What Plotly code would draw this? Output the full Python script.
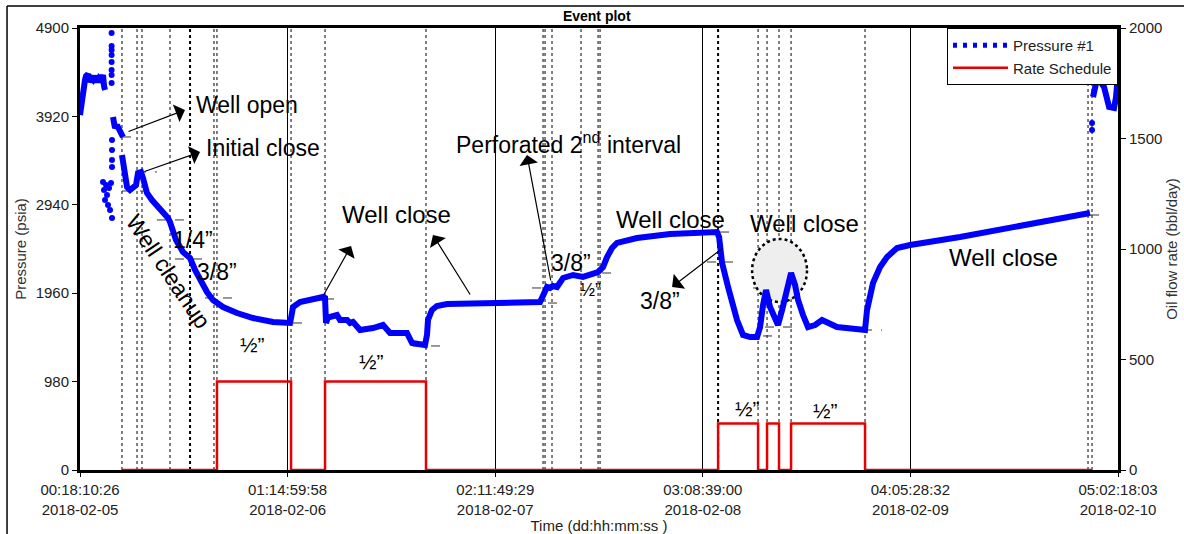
import plotly.graph_objects as go

FONT = "Arial, 'Liberation Sans', sans-serif"

# ---- time axis (dd:hh:mm:ss relative clock, with calendar date) ----
tick_clock = ["00:18:10:26", "01:14:59:58", "02:11:49:29", "03:08:39:00", "04:05:28:32", "05:02:18:03"]
tick_dates = ["2018-02-05", "2018-02-06", "2018-02-07", "2018-02-08", "2018-02-09", "2018-02-10"]


def clock_seconds(s):
    d, h, m, sec = (int(v) for v in s.split(":"))
    return ((d * 24 + h) * 60 + m) * 60 + sec


t0 = clock_seconds(tick_clock[0])
tick_hours = [(clock_seconds(c) - t0) / 3600.0 for c in tick_clock]
t_end = tick_hours[-1]

# ---- pressure gauge #1 (hours since start, psia) ----
pre_open_h = [0.00, 0.10, 0.20, 0.30, 0.50, 0.60, 0.80, 0.90, 1.10, 1.30, 1.50, 1.71, 1.91, 2.11, 2.31, 2.41, 2.51]
pre_open_p = [3936, 4046, 4102, 4235, 4324, 4368, 4390, 4301, 4346, 4324, 4368, 4301, 4346, 4324, 4379, 4257, 4213]

transient_h = [2.31, 2.41, 2.51, 2.61, 2.71, 2.81, 2.91, 3.01, 3.11, 3.21,
               3.17, 3.17, 3.17, 3.17, 3.17, 3.17, 3.17, 3.17,
               3.21, 3.21, 3.21, 3.21, 101.52, 101.52]
transient_p = [3193, 3104, 2993, 3159, 3049, 2938, 3126, 2882, 3182, 2794,
               4845, 4700, 4656, 4600, 4523, 4434, 4379, 4290,
               3658, 3548, 3437, 3359, 3847, 3769]

open_h = [3.31, 3.51, 3.71, 4.01, 4.31]
open_p = [3913, 3791, 3825, 3747, 3692]

main_h = [4.21, 4.51, 4.72, 5.02, 5.32, 5.62, 5.82, 6.12, 6.32, 6.72, 7.22, 7.72, 8.33, 8.83, 9.03, 9.23,
          9.63, 10.33, 11.04, 11.54, 12.24, 12.74, 13.34, 14.35, 15.75, 17.36, 19.36, 20.87, 21.07, 21.17,
          21.37, 22.07, 23.37, 24.38, 24.58, 24.68, 24.88, 25.08, 25.78, 26.08, 26.79, 27.09, 27.39, 28.09,
          29.39, 30.40, 31.10, 32.80, 33.31, 34.61, 34.81, 34.91, 35.31, 35.81, 36.82, 38.82, 41.83, 46.15,
          46.45, 46.85, 47.15, 47.45, 47.85, 48.46, 49.46, 50.46, 51.97, 52.47, 52.87, 53.37, 53.87, 54.88,
          55.88, 59.19, 62.20, 63.90, 64.11, 64.21, 64.41, 65.01, 65.91, 66.51, 67.22, 67.92, 68.22, 68.52,
          68.82, 69.22, 69.72, 70.02, 70.43, 70.73, 71.33, 71.73, 72.03, 72.53, 73.03, 73.74, 74.44, 75.94,
          77.25, 78.55, 78.75, 78.95, 79.55, 80.26, 80.56, 80.96, 81.96, 83.27, 88.28, 95.00, 101.32]
main_p = [3492, 3270, 3137, 3104, 3126, 3159, 3293, 3304, 3237, 3071, 2993, 2938, 2860, 2794, 2749, 2661,
          2550, 2417, 2350, 2217, 2073, 1973, 1885, 1807, 1740, 1685, 1641, 1630, 1630, 1685,
          1807, 1862, 1896, 1918, 1907, 1630, 1696, 1696, 1718, 1663, 1663, 1630, 1641, 1552,
          1574, 1607, 1519, 1519, 1408, 1386, 1497, 1663, 1774, 1818, 1840, 1851, 1851, 1862,
          1940, 2029, 2018, 2040, 2029, 2129, 2162, 2140, 2195, 2250, 2361, 2461, 2517, 2550,
          2572, 2616, 2627, 2638, 2583, 2472, 2295, 2029, 1663, 1497, 1474, 1474, 1585, 1829,
          1995, 1807, 1685, 1607, 1774, 1918, 2184, 2051, 1885, 1718, 1585, 1607, 1663, 1585,
          1574, 1552, 1552, 1774, 2073, 2250, 2295, 2361, 2461, 2494, 2583, 2716, 2849]

reopen_h = [101.62, 101.93, 102.23, 102.73, 103.23, 103.73, 103.93, 104.10]
reopen_p = [4135, 4290, 4323, 4246, 4024, 4013, 4135, 4357]

# ---- rate schedule (bbl/day), step changes ----
rate_h = [4.21, 13.74, 21.17, 24.58, 34.71, 64.01, 68.02, 68.92, 70.12, 71.33, 78.75, 101.52]
rate_q = [0, 400, 0, 400, 0, 210, 0, 210, 0, 210, 0, 0]

# ---- event markers ----
event_h = [4.21, 5.72, 6.22, 9.03, 13.44, 13.74, 21.17, 24.58, 34.71, 46.45, 46.65, 47.35,
           50.26, 51.97, 52.17, 68.02, 68.92, 70.12, 71.33, 78.75, 101.12, 101.52]
event_bold_h = [11.04, 64.01]

# short dashed pressure levels at event starts: (start h, end h, psia)
level_h0 = [4.21, 5.72, 4.21, 7.72, 9.53, 12.54, 21.37, 24.58, 33.41, 45.35, 46.95, 52.37, 64.21, 62.90,
            67.52, 70.53, 68.72, 68.52, 78.55, 101.32]
level_h1 = [5.72, 7.72, 7.22, 11.04, 12.74, 15.35, 22.77, 26.38, 36.42, 48.15, 48.15, 53.87, 65.51, 65.51,
            69.92, 72.23, 71.73, 69.92, 80.46, 103.13]
level_p = [3692, 3304, 3093, 2772, 2339, 1907, 1630, 1896, 1375, 2018, 1851, 2184, 2638, 2306,
           2018, 2195, 1585, 1486, 1552, 2827]

BLUE = "#0000ff"
RED = "#e60000"

fig = go.Figure()

for hx, py in [(pre_open_h, pre_open_p), (open_h, open_p), (main_h, main_p), (reopen_h, reopen_p)]:
    fig.add_trace(go.Scatter(x=hx, y=py, mode="lines", line=dict(color=BLUE, width=6),
                             showlegend=False, hoverinfo="skip"))
fig.add_trace(go.Scatter(x=transient_h, y=transient_p, mode="markers",
                         marker=dict(color=BLUE, size=6), showlegend=False, hoverinfo="skip"))
# legend entry for the gauge (dotted sample)
fig.add_trace(go.Scatter(x=[None], y=[None], mode="lines", name="Pressure #1",
                         line=dict(color=BLUE, width=5, dash="4px,6px")))
fig.add_trace(go.Scatter(x=rate_h, y=rate_q, mode="lines", name="Rate Schedule", yaxis="y2",
                         line=dict(color=RED, width=2.5, shape="hv")))

shapes = []
for h in event_h:
    shapes.append(dict(type="line", xref="x", yref="paper", x0=h, x1=h, y0=0, y1=1, layer="between",
                       line=dict(color="black", width=1, dash="dot")))
for h in event_bold_h:
    shapes.append(dict(type="line", xref="x", yref="paper", x0=h, x1=h, y0=0, y1=1, layer="between",
                       line=dict(color="black", width=2, dash="dot")))
for a, b, p in zip(level_h0, level_h1, level_p):
    shapes.append(dict(type="line", xref="x", yref="y", x0=a, x1=b, y0=p, y1=p, layer="between",
                       line=dict(color="#333333", width=1, dash="dash")))
# highlighted double-peak region
shapes.append(dict(type="circle", xref="x", yref="y", x0=67.42, x1=72.93, y0=1862, y1=2561,
                   layer="between", fillcolor="#eeeeee", line=dict(color="black", width=2.5, dash="dot")))
# outer frame
shapes.append(dict(type="line", xref="paper", yref="paper", x0=-0.0703, x1=1.07, y0=1.0498, y1=1.0498,
                   line=dict(color="black", width=1.5)))
shapes.append(dict(type="line", xref="paper", yref="paper", x0=-0.0703, x1=-0.0703, y0=-0.2, y1=1.0498,
                   line=dict(color="black", width=1.5)))

annotations = []


def arrow(hx, py, tail_h, tail_p):
    annotations.append(dict(x=hx, y=py, ax=tail_h, ay=tail_p, xref="x", yref="y", axref="x", ayref="y",
                            text="", showarrow=True, arrowhead=1, arrowsize=2.6, arrowwidth=1.2,
                            arrowcolor="black", standoff=0, startstandoff=0))


def label(text, hx, py, size=24, angle=0, xanchor="center"):
    annotations.append(dict(x=hx, y=py, xref="x", yref="y", text=text, showarrow=False,
                            textangle=angle, xanchor=xanchor, yanchor="middle",
                            font=dict(family=FONT, size=size, color="black")))


arrow(10.53, 3991, 4.72, 3747)
label("Well open", 11.44, 4046, size=23, xanchor="left")
arrow(12.04, 3525, 6.32, 3304)
label("Initial close", 12.44, 3570, size=23, xanchor="left")
label("Well cleanup", 8.83, 2206, size=23, angle=56)
label("1/4”", 11.34, 2550, size=23)
label("3/8”", 13.74, 2195, size=23)
label("½”", 17.26, 1386, size=21)
label("½”", 29.29, 1208, size=21)
label("Well close", 31.70, 2827)
arrow(27.19, 2483, 24.38, 1929)
arrow(35.41, 2605, 39.23, 1929)
label("Perforated 2<sup>nd</sup> interval", 48.96, 3625, size=23)
arrow(44.84, 3492, 47.25, 2084)
label("3/8”", 49.26, 2295, size=23)
label("½”", 51.26, 1995, size=18)
label("Well close", 59.19, 2772)
arrow(59.39, 2029, 64.61, 2472)
label("3/8”", 58.19, 1874, size=23)
label("Well close", 72.63, 2738)
label("Well close", 92.60, 2361)
label("½”", 66.91, 687, size=21)
label("½”", 74.74, 665, size=21)

tick_text = [f"{c}<br>{d}" for c, d in zip(tick_clock, tick_dates)]

fig.update_layout(
    width=1184, height=534,
    margin=dict(l=80, r=66, t=28, b=64),
    paper_bgcolor="white", plot_bgcolor="white",
    font=dict(family=FONT, size=15, color="#222222"),
    title=dict(text="<b>Event plot</b>", x=0.504, xanchor="center", y=0.970, yanchor="middle",
               font=dict(family=FONT, size=14, color="black")),
    xaxis=dict(range=[0, t_end], tickvals=tick_hours, ticktext=tick_text, ticks="outside", ticklen=4,
               tickwidth=1, tickcolor="black", showgrid=True, gridcolor="black", gridwidth=1,
               showline=True, linewidth=3, linecolor="black", mirror=True, zeroline=False,
               automargin=False, tickfont=dict(size=15, color="#222222"),
               title=dict(text="Time (dd:hh:mm:ss )", font=dict(size=15, color="#222222"), standoff=0)),
    yaxis=dict(range=[0, 4900], tickvals=[0, 980, 1960, 2940, 3920, 4900], ticks="outside", ticklen=5,
               tickwidth=1, tickcolor="black", showgrid=False, zeroline=False, showline=True,
               linewidth=3, linecolor="black", automargin=False, tickfont=dict(size=15, color="#222222"),
               title=dict(text="Pressure (psia)", font=dict(size=15, color="#333333"), standoff=6)),
    yaxis2=dict(range=[0, 2000], tickvals=[0, 500, 1000, 1500, 2000], overlaying="y", side="right",
                ticks="outside", ticklen=5, tickwidth=1, tickcolor="black", showgrid=False, zeroline=False,
                showline=True, linewidth=3, linecolor="black", automargin=False,
                tickfont=dict(size=15, color="#222222"),
                title=dict(text="Oil flow rate (bbl/day)", font=dict(size=15, color="#333333"), standoff=6)),
    legend=dict(x=1, xanchor="right", y=1, yanchor="top", bgcolor="white", bordercolor="black",
                borderwidth=1, font=dict(family=FONT, size=15, color="#222222"),
                tracegroupgap=0, itemwidth=55),
    shapes=shapes,
    annotations=annotations,
    showlegend=True,
)

fig.write_html("out.html")
